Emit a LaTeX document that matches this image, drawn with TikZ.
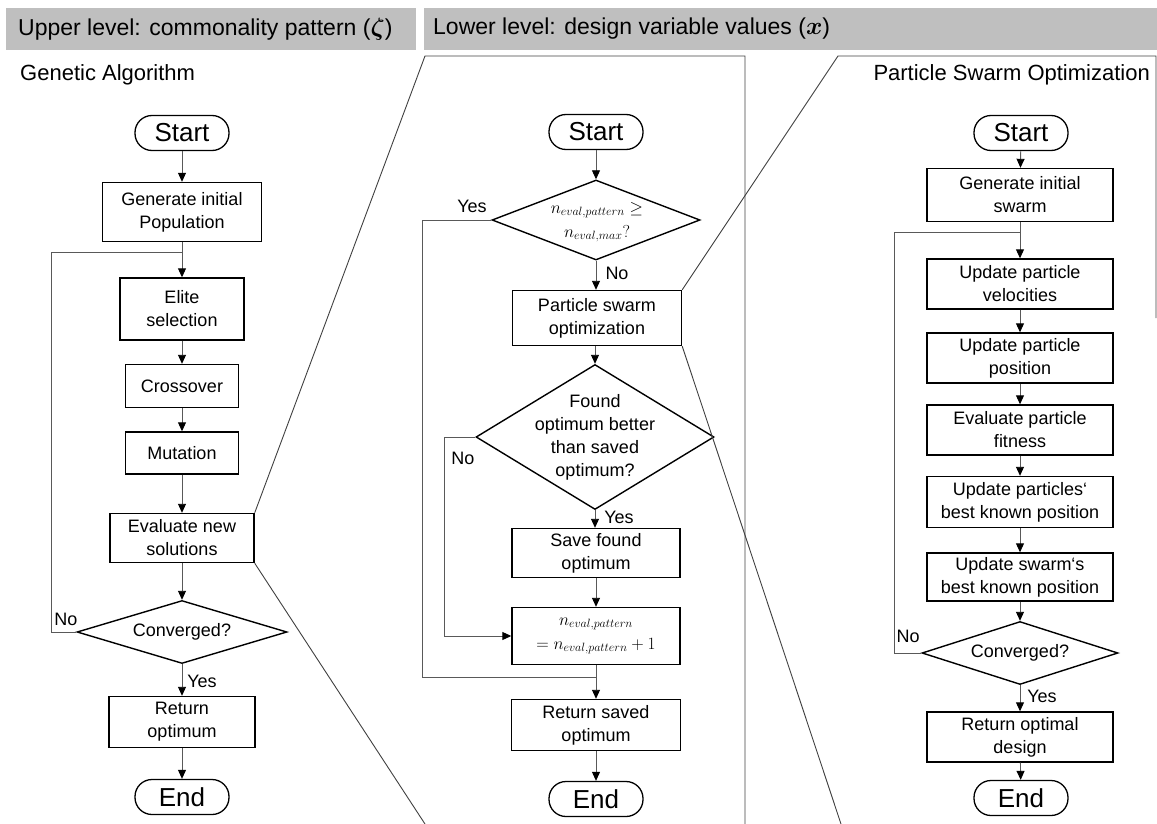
\documentclass[tikz,border=0pt]{standalone}
\usepackage{amsmath,bm}
\usepackage{fontspec}
\setmainfont{Liberation Sans}
\usetikzlibrary{arrows.meta,shapes.geometric}
\definecolor{hdr}{HTML}{BFBFBF}
\definecolor{conn}{HTML}{595959}
\tikzset{
  bx/.style={draw=black, line width=1.4pt, inner sep=0pt, align=center, font=\fontsize{18}{23}\selectfont},
  term/.style={draw=black, line width=1.3pt, rounded corners=17pt, minimum width=94pt, minimum height=35pt, inner sep=0pt, font=\fontsize{26}{30}\selectfont},
  dia/.style={draw=black, diamond, line width=1.4pt, inner sep=0pt},
  dtxt/.style={inner sep=0pt, align=center, font=\fontsize{18}{23}\selectfont},
  arr/.style={draw=conn, line width=0.9pt, -{Triangle[length=9pt,width=8pt,color=black]}},
  ln/.style={draw=conn, line width=0.9pt},
  zl/.style={draw=black!75, line width=0.9pt},
  lab/.style={inner sep=0pt, font=\fontsize{18}{22}\selectfont},
  ttl/.style={inner sep=0pt, font=\fontsize{22}{26}\selectfont},
}
\begin{document}
\begin{tikzpicture}[x=1pt,y=-1pt]
\useasboundingbox (0,0) rectangle (1157,824);
% header bars
\fill[hdr] (6,8) rectangle (416,50);
\fill[hdr] (424,8) rectangle (1157,50);
\node[ttl, anchor=west, font=\fontsize{23}{26}\selectfont] (h1) at (18,29) {Upper level: commonality pattern ($\bm{\zeta}$)};
\node[ttl, anchor=west, font=\fontsize{23}{26}\selectfont] (h2) at (433,29) {Lower level: design variable values ($\bm{x}$)};
\node[ttl, anchor=west] (t1) at (20,75) {Genetic Algorithm};
\node[ttl, anchor=east] (t2) at (1150,75) {Particle Swarm Optimization};

% ---------------- GA column ----------------
\node[term] (gstart) at (182,133) {Start};
\node[bx, minimum width=159pt, minimum height=59pt] (ggen) at (182,212) {Generate initial\\Population};
\node[bx, minimum width=124pt, minimum height=62pt] (gelite) at (182,309) {Elite\\selection};
\node[bx, minimum width=113pt, minimum height=43pt] (gcross) at (182,386) {Crossover};
\node[bx, minimum width=113pt, minimum height=42pt] (gmut) at (182,453) {Mutation};
\node[bx, minimum width=144pt, minimum height=49pt] (geval) at (182,538) {Evaluate new\\solutions};
\node[dia, minimum width=210pt, minimum height=63pt] (gconv) at (182,632) {};
\node[dtxt] (gconvt) at (gconv.center) {Converged?};
\node[bx, minimum width=146pt, minimum height=51pt] (gret) at (182,722) {Return\\optimum};
\node[term] (gend) at (182,797) {End};
\coordinate (gj) at (182,252);
\coordinate (gl) at (51,632);

\draw[arr] (gstart) -- (ggen);
\draw[arr] (ggen) -- (gelite);
\draw[arr] (gelite) -- (gcross);
\draw[arr] (gcross) -- (gmut);
\draw[arr] (gmut) -- (geval);
\draw[arr] (geval) -- (gconv.north);
\draw[arr] (gconv.south) -- (gret);
\draw[arr] (gret) -- (gend);
\draw[ln] (gconv.west) -- (gl) |- (gj);
\node[lab] (gno) at (66,619) {No};
\node[lab] (gyes) at (202,681) {Yes};

% ---------------- Middle column ----------------
\node[term] (mstart) at (596,132) {Start};
\node[dia, minimum width=208pt, minimum height=80pt] (md1) at (596,220) {};
\node[dtxt, font=\fontsize{16.5}{24}\selectfont] (md1t) at (597,222) {$n_{eval,pattern}\geq$\\$n_{eval,max}?$};
\node[bx, minimum width=169pt, minimum height=55pt] (mpso) at (597,318) {Particle swarm\\optimization};
\node[dia, minimum width=238pt, minimum height=145pt] (md2) at (595,437) {};
\node[dtxt] (md2t) at (md2.center) {Found\\optimum better\\than saved\\optimum?};
\node[bx, minimum width=168pt, minimum height=49pt] (msave) at (596,553) {Save found\\optimum};
\node[bx, minimum width=168pt, minimum height=57pt, font=\fontsize{16.5}{24}\selectfont] (minc) at (596,636) {$n_{eval,pattern}$\\$=n_{eval,pattern}+1$};
\node[bx, minimum width=169pt, minimum height=51pt] (mret) at (596,725) {Return saved\\optimum};
\node[term] (mend) at (596,799) {End};
\coordinate (mj) at (596,677);
\coordinate (myl) at (422,220);
\coordinate (mnl) at (444,437);

\draw[arr] (mstart) -- (md1.north);
\draw[arr] (md1.south) -- (md1.south |- mpso.north);
\draw[arr] (mpso.south -| md2.north) -- (md2.north);
\draw[arr] (md2.south) -- (md2.south |- msave.north);
\draw[arr] (msave) -- (minc);
\draw[arr] (minc) -- (mret);
\draw[arr] (mret) -- (mend);
\draw[ln] (md1.west) -- (myl) |- (mj);
\draw[arr] (md2.west) -- (mnl) |- (minc.west);
\node[lab] (myes) at (472,206) {Yes};
\node[lab] (mno) at (617,273) {No};
\node[lab] (mno2) at (463,458) {No};
\node[lab] (myes2) at (619,517) {Yes};

% ---------------- PSO column ----------------
\node[term] (pstart) at (1021,133) {Start};
\node[bx, minimum width=186pt, minimum height=53pt] (pgen) at (1020,195) {Generate initial\\swarm};
\node[bx, minimum width=186pt, minimum height=50pt] (pvel) at (1020,284) {Update particle\\velocities};
\node[bx, minimum width=186pt, minimum height=50pt] (ppos) at (1020,358) {Update particle\\position};
\node[bx, minimum width=186pt, minimum height=50pt] (pfit) at (1020,430) {Evaluate particle\\fitness};
\node[bx, minimum width=186pt, minimum height=51pt] (pbest) at (1020,502) {Update particles‘\\best known position};
\node[bx, minimum width=186pt, minimum height=48pt] (pswarm) at (1020,577) {Update swarm‘s\\best known position};
\node[dia, minimum width=196pt, minimum height=63pt] (pconv) at (1020,653) {};
\node[dtxt] (pconvt) at (pconv.center) {Converged?};
\node[bx, minimum width=186pt, minimum height=50pt] (pret) at (1020,737) {Return optimal\\design};
\node[term] (pend) at (1021,798) {End};
\coordinate (pj) at (1020,232);
\coordinate (pl) at (894,653);

\draw[arr] (pstart) -- (pgen);
\draw[arr] (pgen) -- (pvel);
\draw[arr] (pvel) -- (ppos);
\draw[arr] (ppos) -- (pfit);
\draw[arr] (pfit) -- (pbest);
\draw[arr] (pbest) -- (pswarm);
\draw[arr] (pswarm) -- (pconv.north);
\draw[arr] (pconv.south) -- (pret);
\draw[arr] (pret) -- (pend);
\draw[ln] (pconv.west) -- (pl) |- (pj);
\node[lab] (pno) at (908,636) {No};
\node[lab] (pyes) at (1042,696) {Yes};

% ---------------- zoom panels ----------------
\coordinate (z1tl) at (425,56);
\coordinate (z1tr) at (745,56);
\coordinate (z1br) at (745,824);
\coordinate (z1bl) at (425,824);
\coordinate (z2tl) at (838,56);
\coordinate (z2tr) at (1156,56);
\coordinate (z2re) at (1156,318);
\coordinate (z2bl) at (841,824);
\draw[zl] (geval.north east) -- (z1tl) -- (z1tr) -- (z1br);
\draw[zl] (geval.south east) -- (z1bl);
\draw[zl] (mpso.north east) -- (z2tl) -- (z2tr) -- (z2re);
\draw[zl] (mpso.south east) -- (z2bl);
\end{tikzpicture}
\end{document}
